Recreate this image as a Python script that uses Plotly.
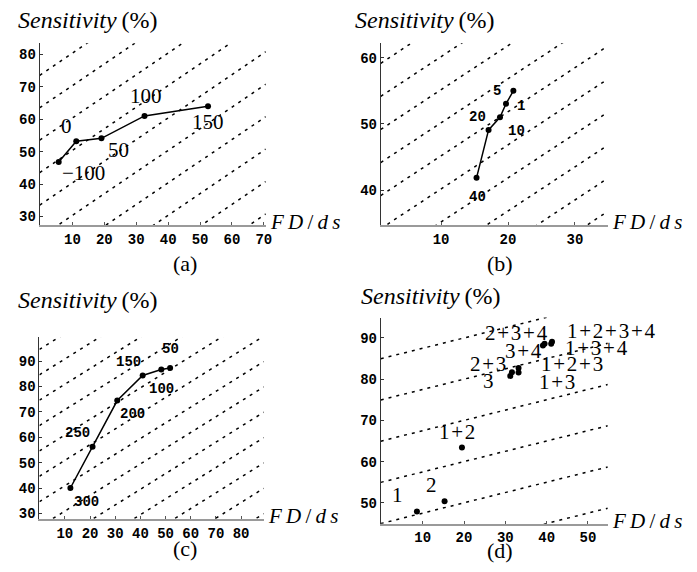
import plotly.graph_objects as go

W, H = 697, 572

# ---------------- data ----------------
# Panel (a)
a_x = [5.7, 11.2, 19.1, 32.6, 52.5]
a_y = [46.8, 53.2, 54.1, 61.0, 64.0]
a_lbl = ["\u2212100", "0", "50", "100", "150"]
a_lbl_x = [13.6, 8.2, 24.5, 33.0, 52.4]
a_lbl_y = [43.3, 57.8, 50.5, 67.3, 59.1]
a_slope = 0.667
a_icpt = [73.7, 63.7, 53.7, 43.7, 33.7, 23.7, 13.7, 3.7, -6.3, -16.3, -26.3]

# Panel (b)
b_x = [15.3, 17.1, 18.8, 19.7, 20.8]
b_y = [41.85, 49.1, 51.0, 53.05, 55.0]
b_lbl = ["40", "20", "10", "1", "5"]
b_lbl_x = [15.5, 15.4, 21.3, 22.0, 18.4]
b_lbl_y = [38.9, 51.0, 49.0, 52.7, 55.0]
b_slope = 0.667
b_icpt = [58.5, 53.5, 48.5, 43.5, 38.5, 33.5, 28.5, 23.5, 18.5, 13.5, 8.5]

# Panel (c)
c_x = [12.2, 21.0, 30.8, 40.9, 48.3, 51.8]
c_y = [40.0, 56.3, 74.5, 84.4, 86.75, 87.3]
c_lbl = ["300", "250", "200", "150", "100", "50"]
c_lbl_x = [18.4, 15.1, 36.7, 35.4, 48.5, 51.8]
c_lbl_y = [34.6, 61.6, 69.1, 89.6, 79.2, 94.9]
c_slope = 0.62
c_icpt = [94.7, 84.7, 74.7, 64.7, 54.7, 44.7, 34.7, 24.7, 14.7, 4.7, -5.3, -15.3, -25.3]

# Panel (d)
d_names = ["1", "2", "1+2", "3", "2+3", "1+3", "1+2+3", "3+4", "2+3+4", "1+3+4", "1+2+3+4"]
d_x = [8.6, 15.3, 19.5, 31.2, 31.6, 33.2, 33.2, 39.1, 39.5, 41.1, 41.3]
d_y = [47.9, 50.4, 63.4, 80.8, 81.7, 81.6, 82.7, 88.2, 88.6, 88.6, 89.1]
d_lbl_x = [4.0, 12.2, 18.4, 25.9, 25.7, 42.6, 46.2, 34.4, 32.8, 52.0, 55.8]
d_lbl_y = [51.8, 54.4, 67.1, 79.5, 83.7, 79.2, 83.6, 86.8, 91.2, 87.5, 91.6]
d_slope = 0.25
d_icpt = [85, 75, 65, 55, 45, 35]

# axis ranges / ticks
a_xr, a_yr = [-0.25, 70.6], [27.25, 83.4]
b_xr, b_yr = [1.0, 34.9], [34.65, 62.2]
c_xr, c_yr = [-0.1, 89.0], [27.9, 99.4]
d_xr, d_yr = [-0.15, 54.8], [44.94, 94.96]
a_xt, a_yt = [10, 20, 30, 40, 50, 60, 70], [30, 40, 50, 60, 70, 80]
b_xt, b_yt = [10, 20, 30], [40, 50, 60]
c_xt, c_yt = [10, 20, 30, 40, 50, 60, 70, 80], [30, 40, 50, 60, 70, 80, 90]
d_xt, d_yt = [10, 20, 30, 40, 50], [50, 60, 70, 80, 90]

# pixel boxes of the four plot areas (left, right, top, bottom)
boxes = {
    "a": (32, 260, 35.5, 219),
    "b": (376, 605, 35.5, 219),
    "c": (31.7, 258, 331.7, 514.3),
    "d": (376, 605, 311.7, 519.3),
}
# y-axis title positions (left x, centre y) and panel tags
title_pos = {"a": (8, 12), "b": (348, 12), "c": (8, 294), "d": (354, 290)}
panel_tags = ["(a)", "(b)", "(c)", "(d)"]
tag_pos = [(165, 257), (510, 257), (165, 558), (510, 560)]

fig = go.Figure()

MONO = "Liberation Mono"
SERIF = "Liberation Serif"


def dashed(icpts, slope, xr, xa, ya):
    xs, ys = [], []
    for c in icpts:
        xs += [xr[0], xr[1], None]
        ys += [c + slope * xr[0], c + slope * xr[1], None]
    fig.add_trace(go.Scatter(x=xs, y=ys, mode="lines", xaxis=xa, yaxis=ya,
                             line=dict(color="black", width=1.5, dash="3px,5px"),
                             hoverinfo="skip", showlegend=False))


panels = [
    ("a", "x", "y", a_x, a_y, a_lbl, a_lbl_x, a_lbl_y, a_slope, a_icpt, a_xr, a_yr, True, SERIF, 21),
    ("b", "x2", "y2", b_x, b_y, b_lbl, b_lbl_x, b_lbl_y, b_slope, b_icpt, b_xr, b_yr, True, MONO, 14),
    ("c", "x3", "y3", c_x, c_y, c_lbl, c_lbl_x, c_lbl_y, c_slope, c_icpt, c_xr, c_yr, True, MONO, 14),
    ("d", "x4", "y4", d_x, d_y, d_names, d_lbl_x, d_lbl_y, d_slope, d_icpt, d_xr, d_yr, False, SERIF, 21),
]

for (key, xa, ya, px, py, lbl, lx, ly, slope, icpt, xr, yr, joined, lfont, lsize) in panels:
    l, r, t, b = boxes[key]
    ppu = (r - l) / (xr[1] - xr[0])
    dashed(icpt, slope, xr, xa, ya)
    fig.add_trace(go.Scatter(x=px, y=py, xaxis=xa, yaxis=ya,
                             mode="lines+markers" if joined else "markers",
                             line=dict(color="black", width=1.5),
                             marker=dict(color="black", size=6),
                             showlegend=False))
    for t_, x, y in zip(lbl, lx, ly):
        xc = min(x, xr[1])
        if lfont == MONO:
            txt = "<b>%s</b>" % t_
        else:
            txt = t_.replace("+", "\u200a+\u200a")
        fig.add_annotation(x=xc, y=y, xref=xa, yref=ya, text=txt,
                           xshift=(x - xc) * ppu, borderpad=0,
                           showarrow=False, font=dict(family=lfont, size=lsize, color="black"))

layout = {}
for i, (key, xr, yr, xt, yt) in enumerate([
        ("a", a_xr, a_yr, a_xt, a_yt), ("b", b_xr, b_yr, b_xt, b_yt),
        ("c", c_xr, c_yr, c_xt, c_yt), ("d", d_xr, d_yr, d_xt, d_yt)]):
    l, r, t, b = boxes[key]
    sfx = "" if i == 0 else str(i + 1)
    layout["xaxis" + sfx] = dict(
        domain=[l / W, r / W], range=xr, anchor="y" + sfx, tickvals=xt,
        showgrid=False, zeroline=False, showline=True, linecolor="#9a9a9a", linewidth=2,
        ticks="inside", ticklen=3, tickcolor="#555", tickwidth=1,
        tickfont=dict(family=MONO, size=14, color="black", weight="bold"), fixedrange=True)
    layout["yaxis" + sfx] = dict(
        domain=[1 - b / H, 1 - t / H], range=yr, anchor="x" + sfx, tickvals=yt,
        showgrid=False, zeroline=False, showline=True, linecolor="#333", linewidth=1,
        ticks="inside", ticklen=3, tickcolor="#333", tickwidth=1,
        tickfont=dict(family=MONO, size=14, color="black", weight="bold"), fixedrange=True)
    tx, ty = title_pos[key]
    fig.add_annotation(x=tx / W, y=1 - ty / H, xref="paper", yref="paper",
                       xanchor="left", yanchor="middle", showarrow=False,
                       text="<i>Sensitivity</i>\u2009(%)",
                       font=dict(family=SERIF, size=24, color="black"))
    fig.add_annotation(x=(r + 2) / W, y=1 - (b - 3) / H, xref="paper", yref="paper",
                       xanchor="left", yanchor="middle", showarrow=False,
                       text="<i>F\u2009D</i>\u2009/\u2009<i>d\u2009s</i>",
                       font=dict(family=SERIF, size=21, color="black"))

for tag, (tx, ty) in zip(panel_tags, tag_pos):
    fig.add_annotation(x=tx / W, y=1 - ty / H, xref="paper", yref="paper", showarrow=False,
                       text=tag, borderpad=0, font=dict(family=SERIF, size=22, color="black"))

fig.update_layout(width=W, height=H, margin=dict(l=0, r=0, t=0, b=0),
                  paper_bgcolor="white", plot_bgcolor="white", showlegend=False, **layout)

fig.write_html("out.html", config={"displayModeBar": False})
